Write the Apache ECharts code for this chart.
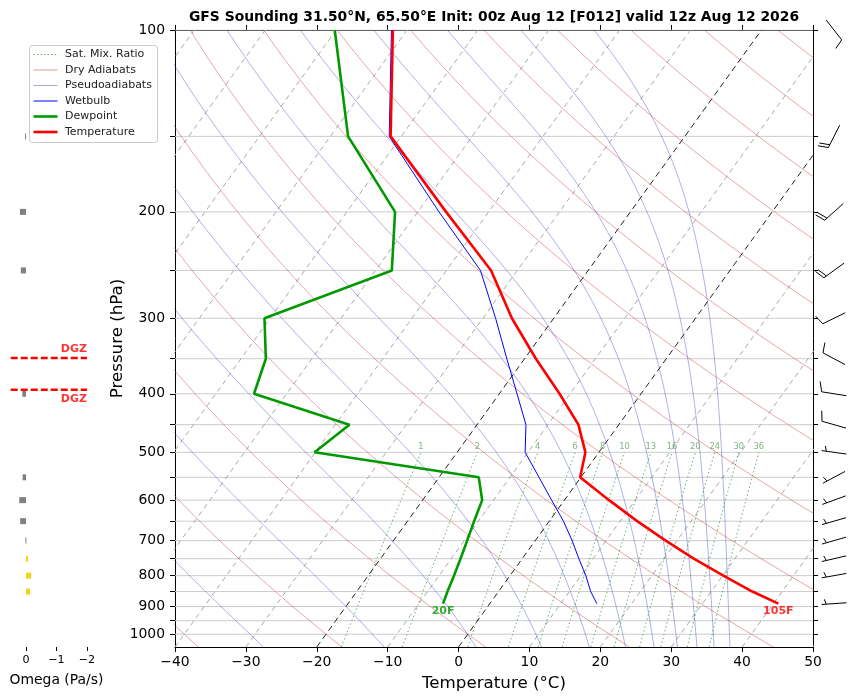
<!DOCTYPE html>
<html>
<head>
<meta charset="utf-8">
<script src="https://cdn.jsdelivr.net/npm/echarts@6/dist/echarts.min.js"></script>
<style>html,body{margin:0;padding:0;background:#fff}#chart{width:857px;height:697px}</style>
</head>
<body>
<div id="chart"></div>
<script>
/* 探空数据 */
var presLevels = [890, 850, 800, 750, 700, 650, 600, 550, 500, 450, 400, 350, 300, 250, 200, 150, 100];
var tempC = [40.7, 35.8, 30.1, 24.2, 18.4, 12.4, 6.3, -0.1, -1.9, -5.7, -11.5, -18.4, -25.9, -33.7, -46.0, -61.5, -72.0];
var dewpC = [-6.6, -7.2, -7.9, -8.7, -9.6, -10.6, -11.6, -14.4, -40.1, -38.0, -54.6, -56.5, -60.8, -47.7, -53.2, -67.5, -80.2];
var wetbC = [15.1, 13.0, 10.7, 8.0, 5.2, 2.0, -1.8, -5.9, -10.4, -13.1, -17.5, -22.5, -28.2, -35.2, -47.0, -61.7, -72.2];

/* 风羽 */
var windP = [100, 150, 200, 250, 300, 350, 400, 450, 500, 550, 600, 650, 700, 750, 800, 890];
var windDir = [142, 207, 228, 234, 244, 298, 279, 286, 278, 242, 250, 254, 254, 257, 260, 266];
var windKt = [10, 20, 20, 20, 10, 10, 10, 10, 5, 5, 5, 5, 5, 5, 5, 5];

/* 垂直速度 Omega */
var omegaP = [150, 200, 250, 400, 550, 600, 650, 700, 750, 800, 850];
var omegaPa = [0.03, 0.2, 0.17, 0.12, 0.11, 0.22, 0.19, 0.02, -0.07, -0.17, -0.14];
var dgzP = [349, 394];

/* 背景线参数 */
var isoTemps = [-100, -90, -80, -70, -60, -50, -40, -30, -20, -10, 0, 10, 20, 30, 40, 50];
var boldIsoTemps = [-20, 0];
var dryThetaC = [-40, -20, 0, 20, 40, 60, 80, 100, 120, 140, 160, 180, 200, 220];
var moistThetaC = [-30, -10, 10, 30, 50, 70, 90, 110, 130, 150, 170];
var mixRatios = [1, 2, 4, 6, 8, 10, 13, 16, 20, 24, 30, 36];
var pTicks = [100, 150, 200, 250, 300, 350, 400, 450, 500, 550, 600, 650, 700, 750, 800, 850, 900, 950, 1000];
var pLabels = [100, 200, 300, 400, 500, 600, 700, 800, 900, 1000];
var omegaTicks = [-2, -1, 0];

var P_BOT = 1050, P_TOP = 100, SKEW = 26.68, KAPPA = 0.2857, MIX_TOP = 500;
var FONT = 'DejaVu Sans';
var DRY_COLOR = 'rgba(200,60,60,0.5)';
var MOIST_COLOR = 'rgba(60,60,190,0.45)';
var MIX_COLOR = 'rgba(0,128,0,0.6)';

function skewX(t, p) { return t + SKEW * Math.log(P_BOT / p); }
function minus(v) { return String(v).replace('-', '\u2212'); }

function moistRate(tK, p) {
    var es = 6.112 * Math.exp(17.67 * (tK - 273.15) / (tK - 29.65));
    var rs = 0.622 * es / (p - es);
    return (287.04 * tK + 2.501e6 * rs) / (1004.6 + 2.501e6 * 2.501e6 * rs * 0.622 / (287.04 * tK * tK));
}
/* 假绝热线: 从顶层向下积分 */
function moistLine(thetaC) {
    var tK = (thetaC + 273.15) * Math.pow(P_TOP / 1000, KAPPA);
    var n = 120, lp0 = Math.log(P_TOP), h = (Math.log(P_BOT) - lp0) / n, pts = [];
    for (var i = 0; i <= n; i++) {
        var lp = lp0 + i * h, p = Math.exp(lp);
        pts.push([skewX(tK - 273.15, p), p]);
        if (i < n) {
            var k1 = moistRate(tK, p);
            var k2 = moistRate(tK + h * k1 / 2, Math.exp(lp + h / 2));
            var k3 = moistRate(tK + h * k2 / 2, Math.exp(lp + h / 2));
            var k4 = moistRate(tK + h * k3, Math.exp(lp + h));
            tK += h * (k1 + 2 * k2 + 2 * k3 + k4) / 6;
        }
    }
    return pts;
}
function dryLine(thetaC) {
    var pts = [];
    for (var i = 0; i <= 40; i++) {
        var p = Math.exp(Math.log(P_TOP) + i * (Math.log(P_BOT) - Math.log(P_TOP)) / 40);
        pts.push([skewX((thetaC + 273.15) * Math.pow(p / 1000, KAPPA) - 273.15, p), p]);
    }
    return pts;
}
function dewFromMix(w, p) {
    var e = (w / 1000) * p / (0.622 + w / 1000);
    var l = Math.log(e / 6.112);
    return 243.5 * l / (17.67 - l);
}
function mixLine(w) {
    var pts = [];
    for (var p = P_BOT; p >= MIX_TOP; p -= 25) pts.push([skewX(dewFromMix(w, p), p), p]);
    return pts;
}
function refLine(data, color, width, type, z) {
    return {
        type: 'line', xAxisIndex: 0, yAxisIndex: 0, data: data, symbol: 'none', silent: true,
        clip: true, z: z, lineStyle: { color: color, width: width, type: type }
    };
}
function profile(vals) {
    return presLevels.map(function (p, i) { return [skewX(vals[i], p), p]; });
}

var series = [];
/*水平网格*/
pTicks.forEach(function (p) { series.push(refLine([[-40, p], [50, p]], '#cccccc', 1, 'solid', 1)); });
/*等温线*/
isoTemps.forEach(function (t) {
    var bold = boldIsoTemps.indexOf(t) >= 0;
    series.push(refLine([[skewX(t, P_BOT), P_BOT], [skewX(t, P_TOP), P_TOP]],
        bold ? '#222222' : '#a8a8a8', 1, bold ? [6, 4] : [5, 4], bold ? 3 : 2));
});
/*干绝热线*/
dryThetaC.forEach(function (th) { series.push(refLine(dryLine(th), DRY_COLOR, 0.9, 'solid', 2)); });
/*假绝热线*/
moistThetaC.forEach(function (th) { series.push(refLine(moistLine(th), MOIST_COLOR, 0.9, 'solid', 2)); });
/*饱和混合比线*/
mixRatios.forEach(function (w) { series.push(refLine(mixLine(w), MIX_COLOR, 1, [1.5, 2.5], 2)); });
series.push({
    type: 'scatter', xAxisIndex: 0, yAxisIndex: 0, symbolSize: 0, silent: true, z: 3,
    data: mixRatios.map(function (w) { return [skewX(dewFromMix(w, MIX_TOP), MIX_TOP), MIX_TOP, w]; }),
    label: {
        show: true, position: 'top', distance: 1, fontSize: 8.3, fontFamily: FONT, color: '#62a062',
        formatter: function (d) { return String(d.value[2]); }
    }
});
/*湿球温度, 露点, 温度*/
series.push(refLine(profile(wetbC), '#0000ff', 1, 'solid', 5));
series.push(refLine(profile(dewpC), '#009a00', 2.6, 'solid', 6));
series.push(refLine(profile(tempC), '#ff0000', 2.6, 'solid', 7));
/*地面温度 华氏标注*/
[[tempC, '#ff0000'], [dewpC, '#009a00']].forEach(function (it) {
    series.push({
        type: 'scatter', xAxisIndex: 0, yAxisIndex: 0, symbolSize: 0, silent: true, z: 8,
        data: [[skewX(it[0][0], presLevels[0]), presLevels[0], it[0][0]]],
        label: {
            show: true, position: 'bottom', distance: 2, fontSize: 11, fontWeight: 'bold',
            fontFamily: FONT, color: it[1],
            formatter: function (d) { return Math.round(d.value[2] * 9 / 5 + 32) + 'F'; }
        }
    });
});
/*Omega 柱*/
series.push({
    type: 'custom', xAxisIndex: 2, yAxisIndex: 2, silent: true, z: 2,
    data: omegaP.map(function (p, i) { return [omegaPa[i], p]; }),
    encode: { x: 0, y: 1 },
    renderItem: function (params, api) {
        var w = api.value(0), p = api.value(1);
        var a = api.coord([0, p]), b = api.coord([w, p]);
        return {
            type: 'rect',
            shape: { x: Math.min(a[0], b[0]), y: a[1] - 3, width: Math.max(Math.abs(b[0] - a[0]), 1), height: 6 },
            style: { fill: w >= 0 ? '#808080' : '#f2d41f' }
        };
    }
});
/*DGZ*/
dgzP.forEach(function (p, i) {
    series.push({
        type: 'line', xAxisIndex: 2, yAxisIndex: 2, symbol: 'none', silent: true, z: 3,
        data: [[0.5, p], [-2, p]], lineStyle: { color: '#ff0000', width: 2.5, type: [7, 3] }
    });
    series.push({
        type: 'scatter', xAxisIndex: 2, yAxisIndex: 2, symbolSize: 0, silent: true, z: 4,
        data: [[-2, p]],
        label: {
            show: true, formatter: 'DGZ', position: [0, i === 0 ? -3 : 4], align: 'right',
            verticalAlign: i === 0 ? 'bottom' : 'top', fontSize: 11, fontWeight: 'bold',
            fontFamily: FONT, color: '#ff0000'
        }
    });
});
/*风羽*/
series.push({
    type: 'custom', xAxisIndex: 3, yAxisIndex: 3, silent: true, z: 3,
    data: windP.map(function (p, i) { return [0.5, p, windDir[i], windKt[i]]; }),
    encode: { x: 0, y: 1 },
    renderItem: function (params, api) {
        var c = api.coord([api.value(0), api.value(1)]);
        var d = api.value(2) * Math.PI / 180, n5 = Math.round(api.value(3) / 5);
        var L = 25, sx = Math.sin(d), sy = -Math.cos(d), px = -sy, py = sx;
        var tip = [c[0] + sx * L / 2, c[1] + sy * L / 2];
        var st = { stroke: '#000', lineWidth: 1 };
        var kids = [{ type: 'line', shape: { x1: c[0] - sx * L / 2, y1: c[1] - sy * L / 2, x2: tip[0], y2: tip[1] }, style: st }];
        var full = Math.floor(n5 / 2), half = n5 % 2, sp = 0.125 * L, off = 0;
        function barb(o, hgt, wid) {
            var qx = tip[0] - sx * o, qy = tip[1] - sy * o;
            kids.push({ type: 'line', shape: { x1: qx, y1: qy, x2: qx + px * hgt + sx * wid, y2: qy + py * hgt + sy * wid }, style: st });
        }
        for (var k = 0; k < full; k++) { barb(off, 0.4 * L, 0.125 * L); off += sp; }
        if (half) { if (off === 0) off = 1.5 * sp; barb(off, 0.2 * L, 0.0625 * L); }
        return { type: 'group', children: kids };
    }
});

var axisText = { color: '#000', fontFamily: FONT };
var logY = { type: 'log', min: P_TOP, max: P_BOT, inverse: true };
var spine = { show: true, onZero: false, lineStyle: { color: '#000' } };
var option = {
    animation: false,
    backgroundColor: '#ffffff',
    grid: [
        { left: 175, top: 30, width: 638, height: 617 },
        { left: 10.75, top: 30, width: 91.5, height: 617 },
        { left: 814, top: 30, width: 40, height: 617 }
    ],
    xAxis: [
        {
            gridIndex: 0, type: 'value', min: -40, max: 50, interval: 10, position: 'bottom',
            axisLine: spine,
            axisTick: { show: true, length: 5, lineStyle: { color: '#000' } },
            axisLabel: Object.assign({ fontSize: 13.9, margin: 8, formatter: minus }, axisText),
            splitLine: { show: false },
            name: 'Temperature (\u00b0C)', nameLocation: 'middle', nameGap: 28, nameMoveOverlap: false,
            nameTextStyle: Object.assign({ fontSize: 16.7 }, axisText)
        },
        {
            gridIndex: 0, type: 'value', min: -40, max: 50, interval: 10, position: 'top',
            axisLine: spine,
            axisTick: { show: true, length: 5, lineStyle: { color: '#000' } },
            axisLabel: { show: false }, splitLine: { show: false }
        },
        {
            gridIndex: 1, type: 'value', min: -2.5, max: 0.5, inverse: true,
            axisLine: { show: false, onZero: false },
            axisTick: { show: true, length: 4, customValues: omegaTicks, lineStyle: { color: '#000' } },
            axisLabel: Object.assign({ fontSize: 11.1, margin: 8, customValues: omegaTicks, formatter: minus }, axisText),
            splitLine: { show: false },
            name: 'Omega (Pa/s)', nameLocation: 'middle', nameGap: 26, nameMoveOverlap: false,
            nameTextStyle: Object.assign({ fontSize: 13.9 }, axisText)
        },
        { gridIndex: 2, type: 'value', min: 0, max: 1, show: false }
    ],
    yAxis: [
        Object.assign({
            gridIndex: 0, position: 'left',
            axisLine: spine,
            axisTick: { show: true, length: 5, customValues: pTicks, lineStyle: { color: '#000' } },
            axisLabel: Object.assign({ fontSize: 13.9, margin: 10, customValues: pLabels,
                formatter: function (v) { return String(v); } }, axisText),
            minorTick: { show: false }, splitLine: { show: false },
            name: 'Pressure (hPa)', nameLocation: 'middle', nameGap: 49, nameMoveOverlap: false,
            nameTextStyle: Object.assign({ fontSize: 16.7 }, axisText)
        }, logY),
        Object.assign({
            gridIndex: 0, position: 'right',
            axisLine: spine,
            axisTick: { show: true, length: 5, customValues: pTicks, lineStyle: { color: '#000' } },
            axisLabel: { show: false }, minorTick: { show: false }, splitLine: { show: false }
        }, logY),
        Object.assign({ gridIndex: 1, show: false }, logY),
        Object.assign({ gridIndex: 2, show: false }, logY)
    ],
    series: series,
    graphic: buildGraphic()
};

/*标题和图例*/
function buildGraphic() {
    var items = [
        { name: 'Sat. Mix. Ratio', color: MIX_COLOR, width: 1, dash: [1.5, 2] },
        { name: 'Dry Adiabats', color: DRY_COLOR, width: 1, dash: null },
        { name: 'Pseudoadiabats', color: MOIST_COLOR, width: 1, dash: null },
        { name: 'Wetbulb', color: '#0000ff', width: 1, dash: null },
        { name: 'Dewpoint', color: '#009a00', width: 2.6, dash: null },
        { name: 'Temperature', color: '#ff0000', width: 2.6, dash: null }
    ];
    var g = [{
        type: 'text', x: 494, y: 17.5, z: 100,
        style: { text: 'GFS Sounding 31.50\u00b0N, 65.50\u00b0E Init: 00z Aug 12 [F012] valid 12z Aug 12 2026',
            font: 'bold 13.9px "DejaVu Sans"', fill: '#000', align: 'center', verticalAlign: 'middle' }
    }, {
        type: 'rect', z: 100, shape: { x: 29.5, y: 45.5, width: 128, height: 97, r: 3 },
        style: { fill: 'rgba(255,255,255,0.85)', stroke: '#cccccc', lineWidth: 1 }
    }];
    items.forEach(function (it, i) {
        var y = 54.5 + i * 15.5;
        g.push({ type: 'line', z: 101, shape: { x1: 33.5, y1: y, x2: 57.5, y2: y },
            style: { stroke: it.color, lineWidth: it.width, lineDash: it.dash } });
        g.push({ type: 'text', z: 101, x: 65, y: y,
            style: { text: it.name, font: '11px "DejaVu Sans"', fill: '#222', verticalAlign: 'middle' } });
    });
    return g;
}

var chart = echarts.init(document.getElementById('chart'));
chart.setOption(option);
</script>
</body>
</html>
